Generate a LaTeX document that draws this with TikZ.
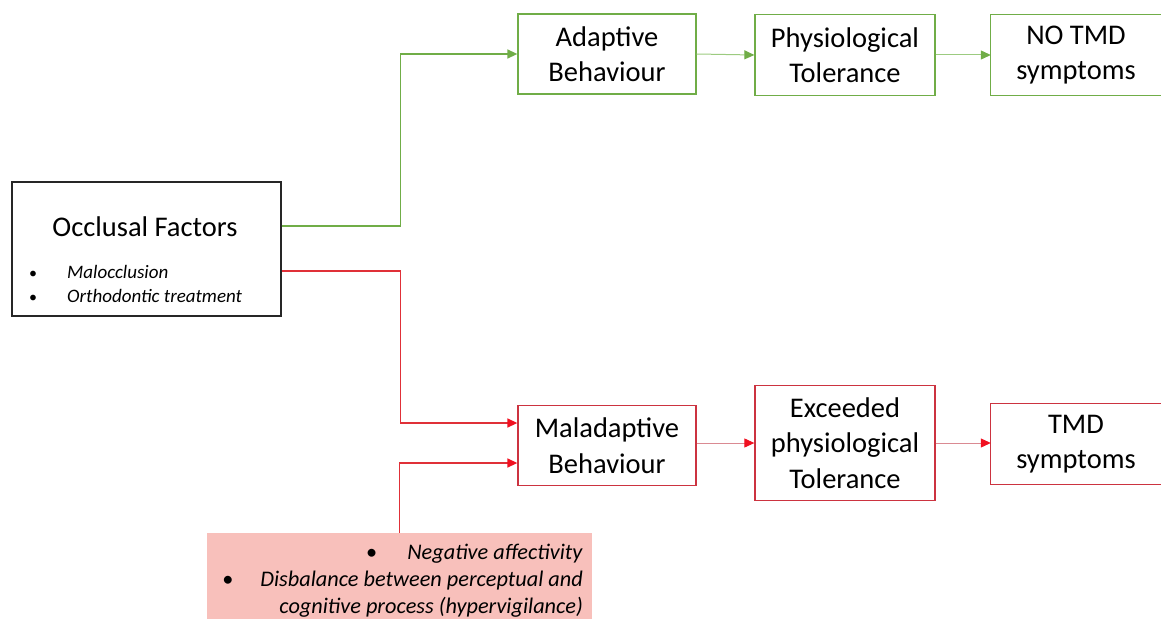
\documentclass[tikz,border=0pt]{standalone}
\usepackage{fontspec}
\setmainfont{Carlito}
\usetikzlibrary{arrows.meta}
\definecolor{grn}{HTML}{70AD47}
\definecolor{grnlight}{HTML}{9CCB80}
\definecolor{redbox}{HTML}{CC3340}
\definecolor{redline}{HTML}{E03038}
\definecolor{redlight}{HTML}{DA8A92}
\definecolor{redtip}{HTML}{F01020}
\definecolor{pinkfill}{HTML}{F8C0BB}
\tikzset{
  box/.style={draw, line width=1.3pt, minimum width=178pt, minimum height=80pt, inner sep=0pt, align=center, font=\fontsize{28.5}{35.5}\selectfont},
  gbox/.style={box, draw=grn},
  rbox/.style={box, draw=redbox},
  txt/.style={inner sep=0pt, align=center, font=\fontsize{28.5}{35.5}\selectfont},
  gconn/.style={draw=grn, line width=1.4pt, -{Triangle[length=10pt,width=9pt]}},
  gthin/.style={draw=grnlight, line width=1pt, -{Triangle[length=10pt,width=9pt,color=grn]}},
  rconn/.style={draw=redline, line width=1.4pt, -{Triangle[length=10pt,width=9pt,color=redtip]}},
  rthin/.style={draw=redlight, line width=1pt, -{Triangle[length=10pt,width=9pt,color=redtip]}},
}
\newcommand{\occbul}{\makebox[38pt][l]{\fontsize{16}{16}\selectfont •}}
\begin{document}
\begin{tikzpicture}[x=1pt,y=-1pt]
\useasboundingbox (0,0) rectangle (1161,618);
% occlusal factors
\node[draw=black!85, line width=1.2pt, minimum width=269pt, minimum height=134pt, inner sep=0pt] (occ) at (146.5,249) {};
\node[txt, font=\fontsize{28.5}{34}\selectfont] (occt) at (145,227) {Occlusal Factors};
\node[inner sep=0pt, anchor=west, align=left, font=\fontsize{19}{24}\selectfont] (occl) at (29,284)
  {\occbul\textit{Malocclusion}\\ \occbul\textit{Orthodontic treatment}};
% top row
\node[gbox] (ad) at (607,54) {Adaptive\\Behaviour};
\node[gbox, minimum width=180pt, minimum height=81pt] (ph) at (845,55) {Physiological\\Tolerance};
\node[txt, minimum width=170pt, minimum height=81pt] (no) at (1076,55) {NO TMD\\symptoms};
\draw[grn, line width=1.3pt] (no.north west) ++(60,0) -- (no.north west) -- (no.south west) -- ++(60,0);
\draw[grn, line width=1.3pt] ([xshift=-120pt]no.north east) -- ++(140,0);
\draw[grn, line width=1.3pt] ([xshift=-120pt]no.south east) -- ++(140,0);
% bottom row
\node[rbox] (mal) at (607,445.5) {Maladaptive\\Behaviour};
\node[rbox, minimum width=180pt, minimum height=115pt] (ex) at (845,443) {Exceeded\\physiological\\Tolerance};
\node[txt, minimum width=170pt, minimum height=81pt] (tmd) at (1076,444) {TMD\\symptoms};
\draw[redbox, line width=1.3pt] (tmd.north west) ++(60,0) -- (tmd.north west) -- (tmd.south west) -- ++(60,0);
\draw[redbox, line width=1.3pt] ([xshift=-120pt]tmd.north east) -- ++(140,0);
\draw[redbox, line width=1.3pt] ([xshift=-120pt]tmd.south east) -- ++(140,0);
% pink box
\node[fill=pinkfill, minimum width=385pt, minimum height=92pt, inner sep=0pt] (pk) at (399.5,579) {};
\node[inner sep=0pt, anchor=north east, align=right, font=\fontsize{22.3}{27}\selectfont] (pkt) at (583,543.5)
  {•\hspace{30pt}\textit{Negative affectivity}\\
   •\hspace{27pt}\textit{Disbalance between perceptual and}\\
   \textit{cognitive process (hypervigilance)}};
% connectors
\draw[gconn] ([yshift=23pt]occ.east) -- ++(119,0) |- (ad.west);
\draw[gthin] (ad.east) -- (ph.west);
\draw[gthin] (ph.east) -- (ph.east -| no.west);
\draw[rconn] ([yshift=-22pt]occ.east) -- ++(119,0) |- ([yshift=22.5pt]mal.west);
\draw[rconn] (pk.north) |- ([yshift=-17.5pt]mal.west);
\draw[rthin] ([yshift=2.5pt]mal.east) -- ([yshift=2.5pt]mal.east -| ex.west);
\draw[rthin] (ex.east) -- (ex.east -| tmd.west);
\end{tikzpicture}
\end{document}
